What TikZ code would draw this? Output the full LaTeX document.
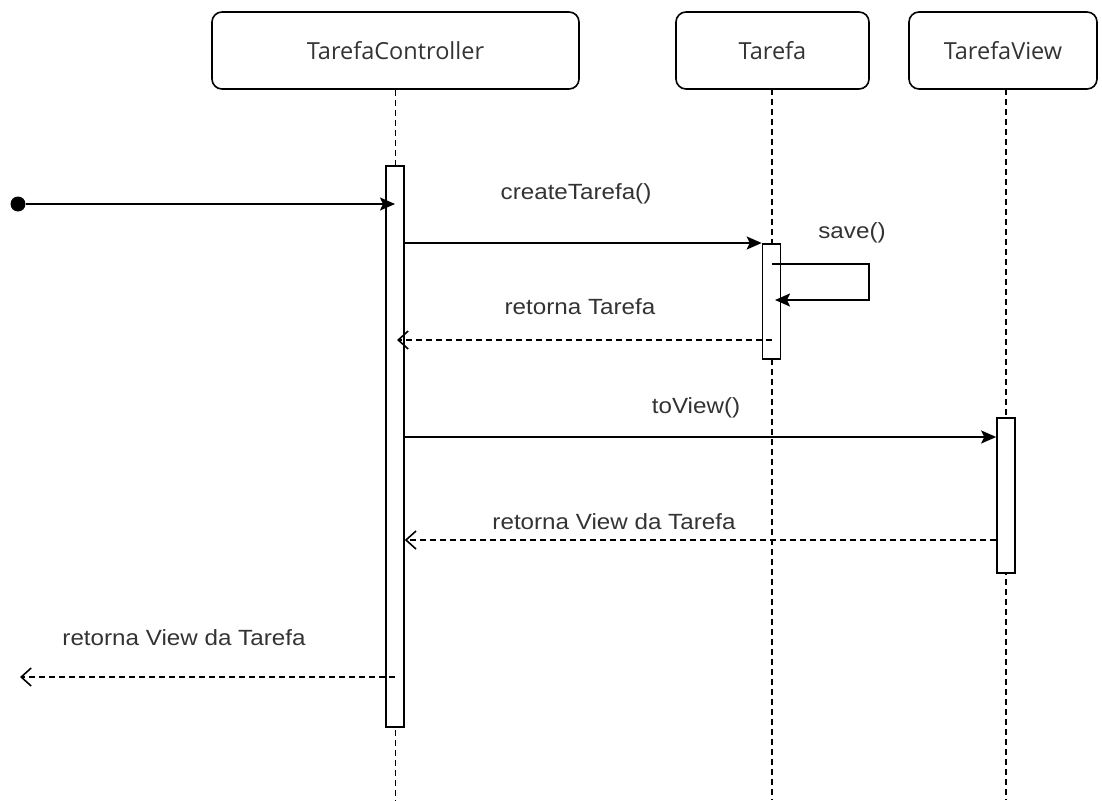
\documentclass[tikz,border=0pt]{standalone}
\usepackage{fontspec}
\setmainfont{Liberation Sans}
\newfontfamily\headfont{Open Sans}
\newfontfamily\lblfont[FakeStretch=1.1]{Liberation Sans}
\usetikzlibrary{arrows.meta}
\begin{document}
\begin{tikzpicture}[x=1pt,y=-1pt,
  header/.style={draw, rounded corners=10pt, line width=1.6pt, minimum width=#1, minimum height=77pt, inner sep=0pt, font=\headfont\fontsize{23.5}{26}\selectfont, text=black!80},
  act/.style={draw, fill=white, line width=1.6pt, minimum width=18pt, minimum height=#1, inner sep=0pt},
  life/.style={line width=1.5pt, dash pattern=on 6pt off 4pt},
  msg/.style={line width=1.8pt, -{Stealth[length=15pt, width=13pt, inset=3pt]}},
  ret/.style={line width=1.4pt, dash pattern=on 6pt off 4pt, -{Straight Barb[length=10pt, width=18pt, line width=1.6pt]}},
  lbl/.style={font=\lblfont\fontsize{22}{25}\selectfont, text=black!80, inner sep=0pt}
]
\useasboundingbox (0,0) rectangle (1102,800);

% headers
\node[header=367pt] (h1) at (395.5,50.5) {TarefaController};
\node[header=193pt] (h2) at (772.5,50.5) {Tarefa};
\node[header=188pt] (h3) at (1003,50.5) {TarefaView};

% lifelines
\coordinate (e1) at (395.5,800);
\coordinate (e2) at (772,800);
\coordinate (e3) at (1006,800);
\draw[life] (h1.south) -- (e1);
\draw[life] (772,89) -- (e2);
\draw[life] (1006,89) -- (e3);

% activations
\node[act=561pt] (a1) at (395,446.5) {};
\node[act=115pt] (a2) at (771.5,301.5) {};
\node[act=155pt] (a3) at (1006,495.5) {};

% found message
\node[circle, fill, minimum size=15pt, inner sep=0pt] (start) at (18,204) {};
\draw[msg] (start) -- (a1.center |- start);

% createTarefa
\node[lbl] (l1) at (576,194) {createTarefa()};
\draw[msg] (a1.east |- 0,243) -- (a2.west |- 0,243);

% save
\node[lbl] (l2) at (852,233) {save()};
\coordinate (s1) at (869,264);
\coordinate (s2) at (869,300);
\coordinate (s3) at (775,300);
\draw[msg] (a2.center |- s1) -- (s1) -- (s2) -- (s3);

% retorna Tarefa
\node[lbl] (l3) at (580,307) {retorna Tarefa};
\coordinate (r1) at (397,340);
\draw[ret] (a2.center |- r1) -- (r1);

% toView
\node[lbl] (l4) at (696,408) {toView()};
\draw[msg] (a1.east |- 0,437) -- (a3.west |- 0,437);

% retorna View da Tarefa
\node[lbl] (l5) at (614,522) {retorna View da Tarefa};
\draw[ret] (a3.west |- 0,540) -- (a1.east |- 0,540);

% final return
\node[lbl] (l6) at (184,638) {retorna View da Tarefa};
\coordinate (f1) at (20,677);
\draw[ret] (a1.center |- f1) -- (f1);
\end{tikzpicture}
\end{document}
